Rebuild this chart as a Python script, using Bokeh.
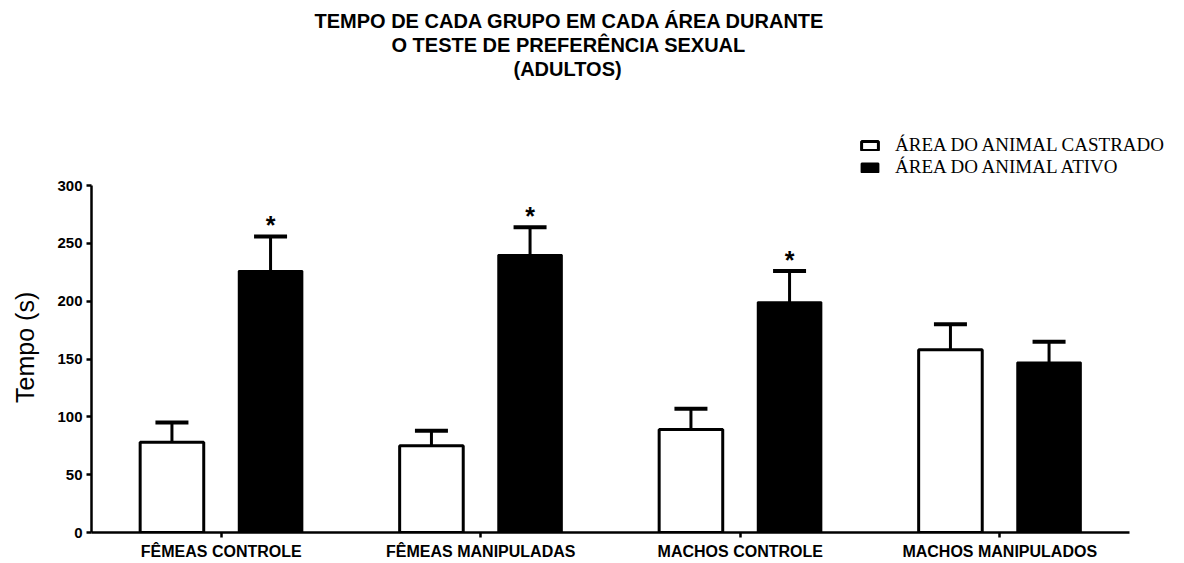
from bokeh.plotting import figure
from bokeh.models import (Range1d, ColumnDataSource, Whisker, TeeHead, FixedTicker,
                          Legend, LegendItem, Title)
from bokeh.transform import dodge
from bokeh.core.properties import value
from bokeh.embed import file_html
from bokeh.resources import INLINE

grupos = ["FÊMEAS CONTROLE", "FÊMEAS MANIPULADAS", "MACHOS CONTROLE", "MACHOS MANIPULADOS"]
castrado = [78, 75, 89, 158]
castrado_erro = [17, 13, 18, 22]
ativo = [226, 240, 199, 147]
ativo_erro = [30, 24, 27, 18]
significancia = ["*", "*", "*", ""]
y_ticks = [0, 50, 100, 150, 200, 250, 300]

titulo = ["TEMPO DE CADA GRUPO EM CADA ÁREA DURANTE",
          "O TESTE DE PREFERÊNCIA SEXUAL",
          "(ADULTOS)"]
legenda = ["ÁREA DO ANIMAL CASTRADO", "ÁREA DO ANIMAL ATIVO"]
rotulo_y = "Tempo (s)"

posicao = list(range(len(grupos)))

src = ColumnDataSource(dict(
    posicao=posicao,
    castrado=castrado,
    castrado_sup=[v + e for v, e in zip(castrado, castrado_erro)],
    ativo=ativo,
    ativo_sup=[v + e for v, e in zip(ativo, ativo_erro)],
    sig=significancia,
))

SANS = "Liberation Sans"
SERIF = "Liberation Serif"

W, H = 1184, 563
LEFT, RIGHT, TOP, BOTTOM = 91, 2, 120, 31
px_per_cat = 259.5
x_end = -0.5 + (W - LEFT - RIGHT) / px_per_cat
y_end = 300 * (H - TOP - BOTTOM) / 347.0

p = figure(x_range=Range1d(-0.5, x_end), y_range=Range1d(0, y_end),
           width=W, height=H, output_backend="svg", toolbar_location=None,
           min_border_left=LEFT, min_border_right=RIGHT, min_border_top=TOP,
           min_border_bottom=BOTTOM, title=titulo[0])

def style_title(t, off):
    t.align = "left"
    t.offset = off
    t.text_font = SANS
    t.text_font_size = "20px"
    t.text_font_style = "bold"
    t.text_color = "black"
    t.standoff = 0

style_title(p.title, 223)
# spacer between the title block and the plot frame
p.add_layout(Title(text=" ", text_font_size="35px", standoff=0), "above")
t3 = Title(text=titulo[2]); style_title(t3, 422)
p.add_layout(t3, "above")
t2 = Title(text=titulo[1]); style_title(t2, 300)
p.add_layout(t2, "above")

off = 0.19
bw = 0.245
r1 = p.vbar(x=dodge("posicao", -off), top="castrado", width=bw, source=src,
            fill_color="white", line_color="black", line_width=3)
r2 = p.vbar(x=dodge("posicao", off), top="ativo", width=bw, source=src,
            fill_color="black", line_color="black", line_width=2)

for col, lo, dx in [("castrado_sup", "castrado", -off), ("ativo_sup", "ativo", off)]:
    p.add_layout(Whisker(source=src, base=dodge("posicao", dx),
                         upper=col, lower=lo, dimension="height",
                         upper_head=TeeHead(size=33, line_width=4, line_color="black"),
                         lower_head=None, line_width=3, line_color="black"))

p.text(x=dodge("posicao", off), y="ativo_sup", text="sig", source=src,
       text_align="center", text_baseline="alphabetic", y_offset=-11,
       text_font=value(SANS), text_font_style="bold", text_font_size="25px", text_color="black")

leg = Legend(items=[LegendItem(label=legenda[0], renderers=[r1]),
                    LegendItem(label=legenda[1], renderers=[r2])],
             location=(768, 354), padding=0, margin=0, spacing=0,
             glyph_width=21, glyph_height=11, label_height=20, label_standoff=15,
             label_text_font=SERIF, label_text_font_size="19px", label_text_color="black",
             border_line_color=None, background_fill_alpha=0)
p.add_layout(leg, "center")

p.xgrid.visible = False
p.ygrid.visible = False
p.outline_line_color = None

p.xaxis.ticker = FixedTicker(ticks=posicao)
p.xaxis.major_label_overrides = {i: g for i, g in zip(posicao, grupos)}
p.xaxis.bounds = (-0.5, len(grupos) - 0.5)

p.yaxis.ticker = FixedTicker(ticks=y_ticks)
p.yaxis.bounds = (0, 300)
p.yaxis.axis_label = rotulo_y + "\u00a0" * 6
p.yaxis.axis_label_text_font = SANS
p.yaxis.axis_label_text_font_size = "25px"
p.yaxis.axis_label_text_font_style = "normal"
p.yaxis.axis_label_text_color = "black"
p.yaxis.axis_label_standoff = 15
p.yaxis.major_label_standoff = 4

for ax in [p.xaxis, p.yaxis]:
    ax.axis_line_width = 2.5
    ax.axis_line_color = "black"
    ax.major_tick_line_width = 2.5
    ax.major_tick_line_color = "black"
    ax.major_tick_out = 5
    ax.major_tick_in = 0
    ax.minor_tick_line_color = None
    ax.major_label_text_font = SANS
    ax.major_label_text_font_style = "bold"
    ax.major_label_text_color = "black"

p.yaxis.major_label_text_font_size = "15px"
p.xaxis.major_label_text_font_size = "16px"
p.xaxis.major_label_standoff = 5

open("out.html", "w").write(file_html(p, INLINE))
